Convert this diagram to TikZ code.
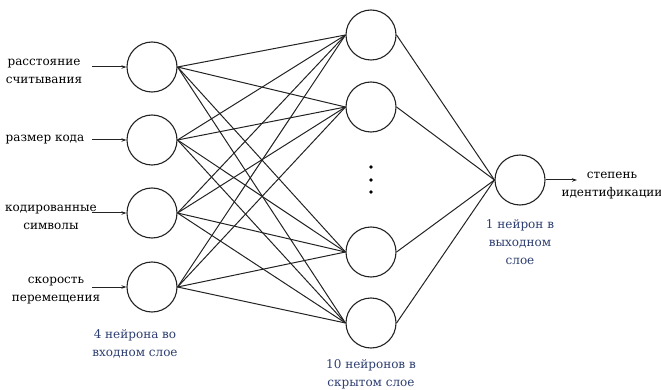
\documentclass[tikz,border=0pt]{standalone}
\usepackage{fontspec}
\newfontfamily\ruserif{DejaVu Serif}
\usepackage{xcolor}
\usetikzlibrary{arrows.meta,positioning}

\definecolor{labelblue}{RGB}{45,62,112}
\definecolor{wire}{RGB}{35,35,35}

\tikzset{
    neuron/.style={
        circle,
        draw=wire,
        line width=1.1pt,
        minimum size=50pt,
        inner sep=0pt
    },
    link/.style={
        -,
        draw=wire,
        line width=1pt
    },
    feed/.style={
        -{Stealth[length=5pt,width=3.5pt]},
        draw=wire,
        line width=1pt
    },
    caption/.style={
        align=center,
        font=\ruserif\fontsize{12}{18}\selectfont,
        inner sep=0pt
    },
    layername/.style={
        caption,
        text=labelblue
    }
}

\begin{document}
\begin{tikzpicture}[x=1pt,y=-1pt]
    \useasboundingbox (0,0) rectangle (661,390);

    % input layer
    \node[neuron] (in1) at (152,67) {};
    \node[neuron] (in2) at (152,140) {};
    \node[neuron] (in3) at (152,213) {};
    \node[neuron] (in4) at (152,287) {};

    % hidden layer
    \node[neuron] (h1) at (371,35) {};
    \node[neuron] (h2) at (371,107) {};
    \node[neuron] (h3) at (371,252) {};
    \node[neuron] (h4) at (371,323) {};

    \node[circle, fill=black, inner sep=1.3pt] (d1) at (371,167) {};
    \node[circle, fill=black, inner sep=1.3pt] (d2) at (371,180) {};
    \node[circle, fill=black, inner sep=1.3pt] (d3) at (371,192) {};

    % output layer
    \node[neuron] (out) at (520,180) {};

    % connections
    \foreach \i in {1,...,4}{
        \foreach \j in {1,...,4}{
            \draw[link] (in\i.east) -- (h\j.west);
        }
        \draw[link] (h\i.east) -- (out.west);
    }

    % inputs
    \coordinate (s1) at (92,67);
    \coordinate (s2) at (92,140);
    \coordinate (s3) at (92,213);
    \coordinate (s4) at (92,287);
    \foreach \i in {1,...,4}{
        \draw[feed] (s\i) -- (in\i.west);
    }

    \node[caption] (t1) at (44,71) {расстояние\\считывания};
    \node[caption] (t2) at (45,140) {размер кода};
    \node[caption] (t3) at (51,217) {кодированные\\символы};
    \node[caption] (t4) at (56,291) {скорость\\перемещения};

    % output
    \coordinate (r) at (577,180);
    \draw[feed] (out.east) -- (r);
    \node[caption] (t5) at (612,186) {степень\\идентификации};

    % layer names
    \node[layername] (l1) at (135,344) {4 нейрона во\\входном слое};
    \node[layername] (l2) at (371,374) {10 нейронов в\\скрытом слое};
    \node[layername] (l3) at (520,242) {1 нейрон в\\выходном\\слое};
\end{tikzpicture}
\end{document}
